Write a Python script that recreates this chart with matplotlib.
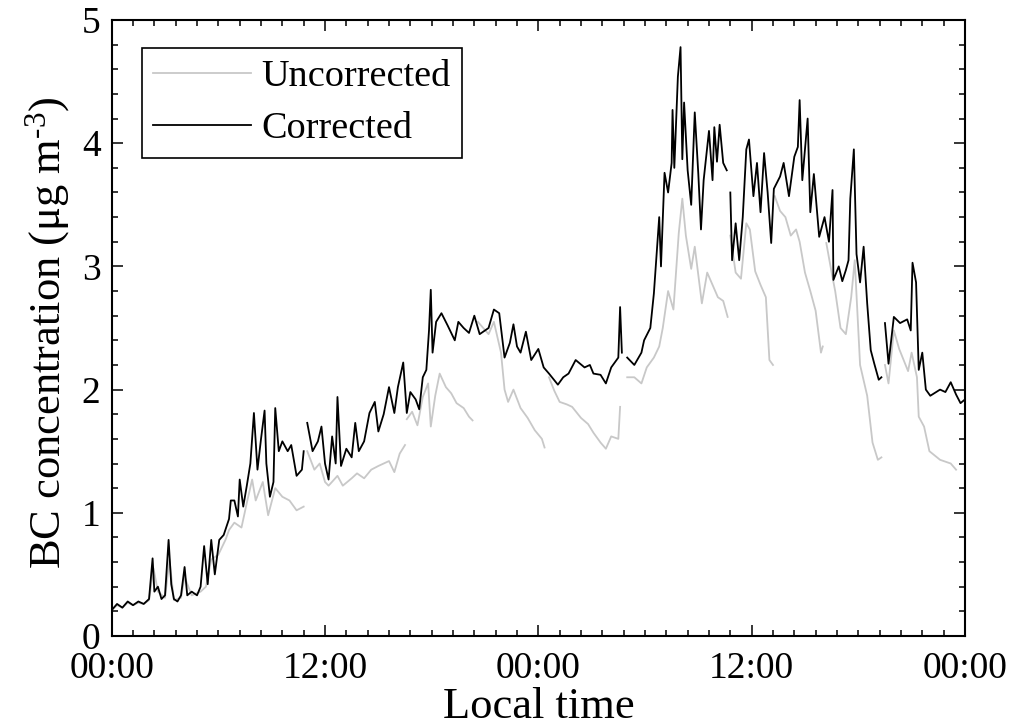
import numpy as np
import matplotlib
matplotlib.use("Agg")
import matplotlib.pyplot as plt
from matplotlib.ticker import MultipleLocator

plt.rcParams['font.family'] = ['Liberation Serif', 'DejaVu Serif']
plt.rcParams['mathtext.fontset'] = 'custom'
plt.rcParams['mathtext.rm'] = 'Liberation Serif'

nan = np.nan

# hours since the first midnight, nan = gap in the record
corr_hours = [0.0, 0.3, 0.6, 0.9, 1.2, 1.5, 1.8, 2.1, 2.3, 2.4,
              2.6, 2.8, 3.0, 3.2, 3.35, 3.5, 3.7, 3.9, 4.1, 4.25,
              4.5, 4.8, 5.0, 5.2, 5.4, 5.6, 5.8, 6.05, 6.3, 6.6,
              6.7, 6.9, 7.1, 7.2, 7.4, 7.6, 7.8, 8.0, 8.2, 8.4,
              8.6, 8.7, 8.9, 9.1, 9.2, 9.4, 9.6, 9.9, 10.1, 10.4,
              10.7, 10.8, 10.9, 11.0, 11.3, 11.6, 11.8, 12.0, 12.2, 12.4,
              12.6, 12.7, 12.9, 13.2, 13.5, 13.7, 13.9, 14.2, 14.5, 14.8,
              15.0, 15.3, 15.6, 15.9, 16.1, 16.4, 16.6, 16.8, 17.1, 17.3,
              17.5, 17.7, 17.85, 17.95, 18.05, 18.25, 18.55, 18.9, 19.3, 19.5,
              19.8, 20.1, 20.4, 20.7, 21.2, 21.5, 21.8, 22.1, 22.4, 22.6,
              22.8, 23.0, 23.3, 23.6, 24.0, 24.3, 24.6, 25.1, 25.4, 25.7,
              26.1, 26.6, 26.9, 27.1, 27.5, 27.8, 28.1, 28.5, 28.6, 28.7,
              28.85, 29.0, 29.4, 29.8, 29.95, 30.3, 30.5, 30.8, 30.9, 31.1,
              31.3, 31.5, 31.55, 31.65, 31.85, 32.0, 32.1, 32.2, 32.4, 32.6,
              32.8, 33.0, 33.15, 33.3, 33.6, 33.8, 33.9, 34.05, 34.2, 34.4,
              34.6, 34.7, 34.8, 34.9, 35.1, 35.3, 35.5, 35.7, 35.85, 36.1,
              36.3, 36.5, 36.7, 36.9, 37.1, 37.25, 37.6, 37.8, 38.1, 38.4,
              38.6, 38.7, 38.85, 39.15, 39.3, 39.5, 39.8, 40.1, 40.35, 40.55,
              40.6, 40.9, 41.1, 41.3, 41.45, 41.55, 41.75, 41.9, 42.1, 42.3,
              42.5, 42.7, 42.9, 43.15, 43.3, 43.4, 43.5, 43.7, 44.0, 44.35,
              44.75, 44.95, 45.05, 45.25, 45.4, 45.6, 45.8, 46.05, 46.6, 46.9,
              47.2, 47.5, 47.75, 48.0]
bc_corrected = [0.21, 0.26, 0.23, 0.28, 0.25, 0.28, 0.26, 0.30, 0.63, 0.36,
                0.40, 0.30, 0.33, 0.78, 0.42, 0.30, 0.28, 0.33, 0.56, 0.33,
                0.36, 0.33, 0.40, 0.73, 0.42, 0.78, 0.50, 0.78, 0.82, 0.95,
                1.10, 1.10, 0.97, 1.27, 1.05, 1.22, 1.40, 1.81, 1.35, 1.60,
                1.83, 1.40, 1.13, 1.25, 1.85, 1.50, 1.58, 1.50, 1.55, 1.30,
                1.35, 1.50, nan, 1.73, 1.50, 1.58, 1.70, 1.40, 1.27, 1.62,
                1.40, 1.94, 1.38, 1.52, 1.45, 1.73, 1.50, 1.58, 1.81, 1.90,
                1.66, 1.80, 2.02, 1.81, 2.02, 2.22, 1.81, 1.98, 1.92, 1.84,
                2.10, 2.16, 2.48, 2.81, 2.30, 2.55, 2.62, 2.52, 2.40, 2.55,
                2.50, 2.46, 2.60, 2.45, 2.50, 2.65, 2.62, 2.26, 2.38, 2.53,
                2.35, 2.30, 2.47, 2.24, 2.33, 2.18, 2.13, 2.04, 2.10, 2.13,
                2.24, 2.18, 2.20, 2.13, 2.12, 2.05, 2.18, 2.26, 2.67, 2.30,
                nan, 2.26, 2.20, 2.30, 2.40, 2.50, 2.78, 3.40, 3.00, 3.76,
                3.60, 3.84, 4.27, 3.80, 4.54, 4.78, 3.87, 4.33, 3.78, 3.50,
                4.25, 3.75, 3.30, 3.70, 4.10, 3.70, 4.13, 3.85, 4.15, 3.84,
                3.78, nan, 3.60, 3.05, 3.35, 3.05, 3.40, 3.95, 4.03, 3.57,
                3.84, 3.44, 3.92, 3.60, 3.19, 3.63, 3.73, 3.84, 3.57, 3.89,
                3.97, 4.35, 3.70, 4.20, 3.44, 3.75, 3.24, 3.40, 3.20, 3.62,
                2.89, 3.00, 2.88, 2.97, 3.05, 3.55, 3.95, 3.10, 2.87, 3.16,
                2.70, 2.32, 2.21, 2.08, 2.10, nan, 2.54, 2.21, 2.59, 2.54,
                2.57, 2.48, 3.03, 2.87, 2.16, 2.30, 2.00, 1.95, 2.00, 1.98,
                2.06, 1.96, 1.89, 1.92]

raw_hours = [0.0, 0.3, 0.6, 0.9, 1.2, 1.5, 1.8, 2.1, 2.35, 2.6,
             3.0, 3.25, 3.5, 3.9, 4.1, 4.5, 5.0, 5.3, 5.6, 6.0,
             6.4, 6.6, 6.9, 7.3, 7.6, 7.9, 8.1, 8.5, 8.8, 9.2,
             9.6, 10.0, 10.4, 10.8, 10.9,
             11.0, 11.4, 11.7, 12.0, 12.2, 12.7, 13.0, 13.5, 13.8, 14.2,
             14.6, 15.0, 15.3, 15.6, 15.9, 16.2, 16.5, 16.55,
             16.6, 16.9, 17.2, 17.5, 17.8, 17.95, 18.2, 18.45, 18.8, 19.1,
             19.4, 19.8, 20.1, 20.3, 20.45,
             20.6, 21.2, 21.5, 21.9, 22.1, 22.3, 22.6, 23.0, 23.4, 23.8,
             24.2, 24.35, 24.5,
             24.6, 24.9, 25.2, 25.6, 25.9, 26.4, 26.8, 27.1, 27.5, 27.8,
             28.1, 28.5, 28.6, 28.8,
             29.0, 29.4, 29.8, 30.1, 30.5, 30.8, 31.0, 31.3, 31.6, 31.9,
             32.1, 32.3, 32.6, 32.8, 33.2, 33.5, 33.8, 34.1, 34.4, 34.65,
             34.72,
             34.8, 35.1, 35.4, 35.7, 35.9, 36.2, 36.5, 36.8, 37.0, 37.2,
             37.25,
             37.3, 37.6, 37.9, 38.2, 38.5, 38.7, 39.0, 39.3, 39.6, 39.9,
             40.0, 40.1,
             40.2, 40.5, 40.7, 41.0, 41.3, 41.6, 41.8, 42.1, 42.5, 42.8,
             43.1, 43.3, 43.4,
             43.5, 43.7, 44.0, 44.3, 44.8, 45.0, 45.3, 45.4, 45.7, 46.0,
             46.6, 47.2, 47.5]
bc_uncorrected = [0.21, 0.25, 0.23, 0.27, 0.25, 0.27, 0.26, 0.29, 0.55, 0.36,
                  0.31, 0.62, 0.29, 0.31, 0.48, 0.33, 0.36, 0.40, 0.62, 0.66,
                  0.78, 0.86, 0.92, 0.88, 1.08, 1.27, 1.10, 1.25, 0.98, 1.20,
                  1.13, 1.10, 1.02, 1.05, nan,
                  1.50, 1.35, 1.40, 1.25, 1.22, 1.30, 1.22, 1.28, 1.32, 1.28,
                  1.35, 1.38, 1.40, 1.42, 1.33, 1.48, 1.55, nan,
                  1.76, 1.82, 1.71, 1.94, 2.05, 1.70, 1.95, 2.13, 2.02, 1.97,
                  1.89, 1.85, 1.78, 1.75, nan,
                  2.55, 2.45, 2.55, 2.30, 2.00, 1.90, 2.00, 1.85, 1.77, 1.67,
                  1.60, 1.53, nan,
                  2.10, 1.99, 1.90, 1.88, 1.86, 1.77, 1.72, 1.65, 1.57, 1.52,
                  1.62, 1.60, 1.86, nan,
                  2.10, 2.10, 2.05, 2.18, 2.26, 2.35, 2.50, 2.80, 2.65, 3.27,
                  3.55, 3.25, 2.98, 3.16, 2.70, 2.95, 2.85, 2.75, 2.72, 2.59,
                  nan,
                  3.25, 2.95, 2.90, 3.35, 3.30, 2.96, 2.85, 2.75, 2.24, 2.20,
                  nan,
                  3.57, 3.45, 3.40, 3.25, 3.30, 3.20, 2.95, 2.80, 2.64, 2.30,
                  2.35, nan,
                  3.19, 2.95, 2.80, 2.50, 2.45, 2.75, 3.05, 2.20, 1.95, 1.57,
                  1.43, 1.45, nan,
                  2.20, 2.05, 2.48, 2.33, 2.15, 2.30, 2.10, 1.78, 1.70, 1.50,
                  1.43, 1.40, 1.35]

tick_hours = [0, 12, 24, 36, 48]
tick_labels = ['00:00', '12:00', '00:00', '12:00', '00:00']

fig = plt.figure(figsize=(10.1, 7.28), dpi=100)
ax = fig.add_axes([0.1106, 0.1264, 0.8448, 0.8461])

ax.plot(raw_hours, bc_uncorrected, color='#c8c8c8', lw=1.3, label='Uncorrected')
ax.plot(corr_hours, bc_corrected, color='black', lw=1.3, label='Corrected')

ax.set_xlim(0, 48)
ax.set_ylim(0, 5)
ax.set_xticks(tick_hours)
ax.set_xticklabels(tick_labels)
ax.xaxis.set_minor_locator(MultipleLocator(1.2))
ax.yaxis.set_major_locator(MultipleLocator(1))
ax.yaxis.set_minor_locator(MultipleLocator(0.2))
ax.tick_params(which='both', direction='in', top=True, right=True,
               labelsize=27, width=1.1)
ax.tick_params(axis='x', which='major', pad=11)
ax.tick_params(axis='y', which='major', pad=8)
ax.tick_params(which='major', length=8)
ax.tick_params(which='minor', length=4.5)
for s in ax.spines.values():
    s.set_linewidth(1.5)

ax.set_xlabel('Local time', fontsize=32, labelpad=1)
ax.set_ylabel('BC concentration (μg m$\\mathregular{^{\\text{-}3}}$)', fontsize=32, labelpad=7)
ax.yaxis.label.set_y(0.492)

leg = ax.legend(loc='upper left', bbox_to_anchor=(0.0355, 0.9545), fontsize=27.5,
                frameon=True, fancybox=False, edgecolor='black', framealpha=1,
                handlelength=2.55, handletextpad=0.27, labelspacing=0.45,
                borderpad=0.3, borderaxespad=0)
leg.get_frame().set_linewidth(1.2)

fig.savefig('out.png', dpi=100)
